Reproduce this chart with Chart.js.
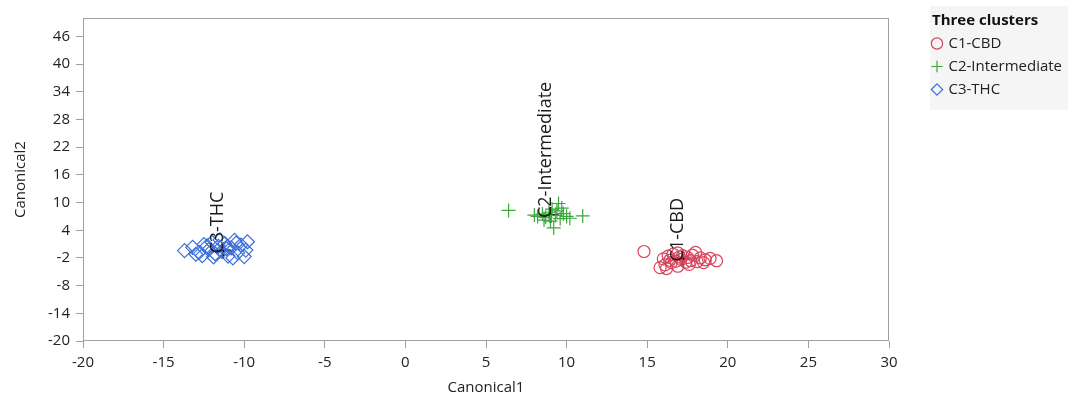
<!DOCTYPE html>
<html>
<head>
<meta charset="utf-8">
<script src="https://cdn.jsdelivr.net/npm/chart.js@4"></script>
<style>
  html, body { margin: 0; padding: 0; background: #fff; overflow: hidden; }
  #wrap { width: 1068px; height: 397px; overflow: hidden; }
  #box { width: 1068px; height: 397px; }
</style>
</head>
<body>
<div id="wrap"><div id="box"><canvas id="myChart"></canvas></div></div>
<script>
// valori (Canonical1, Canonical2)
var cbd = [[14.8,-0.6],[16.0,-2.2],[16.3,-1.6],[16.6,-1.2],[16.9,-0.9],[17.2,-1.5],[17.5,-1.9],[17.8,-1.4],[18.0,-0.8],[18.3,-2.0],
  [18.6,-2.4],[18.9,-2.1],[19.3,-2.6],[16.1,-3.5],[16.5,-3.0],[16.8,-2.7],[17.1,-2.3],[17.4,-2.9],[17.7,-2.6],[18.1,-2.8],
  [15.8,-4.1],[16.2,-4.3],[16.9,-3.8],[17.6,-3.4],[18.5,-3.0],[17.0,-1.8],[16.4,-2.5]];
var intermediate = [[6.4,8.3],[8.2,7.0],[8.5,7.5],[8.7,6.8],[8.9,7.9],[9.1,8.6],[9.3,7.2],[9.5,9.8],[9.6,6.5],[9.8,7.6],
  [10.0,7.0],[10.2,6.6],[11.0,7.1],[9.2,4.5],[8.6,6.2],[9.0,6.0],[9.4,8.2],[8.0,7.3],[9.7,8.8]];
var thc = [[-13.7,-0.4],[-13.2,0.3],[-12.8,-0.8],[-12.5,0.9],[-12.2,-0.2],[-12.0,1.4],[-11.8,-1.1],[-11.6,0.5],[-11.4,-0.6],
  [-11.2,1.1],[-11.0,-1.6],[-10.8,0.2],[-10.6,1.8],[-10.4,-0.9],[-10.2,0.8],[-10.0,-1.7],[-9.8,1.5],[-9.9,-0.3],[-12.6,-1.5],
  [-11.5,1.9],[-10.7,-2.0],[-12.3,0.6],[-11.1,0.0],[-10.5,1.2],[-13.0,-1.2],[-11.9,-1.8]];
var centroidi = [[17.2,-2.1],[9.0,7.3],[-11.3,-0.4]];
var nomiCentroidi = ['C1-CBD', 'C2-Intermediate', 'C3-THC'];
var yTicks = [-20, -14, -8, -2, 4, 10, 16, 22, 28, 34, 40, 46];

function punti(arr) {
  return arr.map(function (p) { return { x: p[0], y: p[1] }; });
}

var FONT = "'Open Sans', sans-serif";

// cornice, sfondo legenda ed etichette dei centroidi
var extra = {
  id: 'extra',
  afterInit: function (chart) {
    var lg = chart.legend;
    var fit = lg.fit;
    lg.fit = function () { fit.call(this); this.width = 179; };
    ['drawTitle', '_drawTitle'].forEach(function (nome) {
      var orig = lg[nome];
      if (typeof orig !== 'function') return;
      lg[nome] = function () {
        this.ctx.save();
        this.ctx.translate(7, 0);
        orig.apply(this, arguments);
        this.ctx.restore();
      };
    });
  },
  afterLayout: function (chart) {
    var lg = chart.legend;
    lg.left += 36; lg.right += 36;
    lg.top -= 5; lg.bottom -= 5;
  },
  beforeDraw: function (chart) {
    var c = chart.ctx;
    c.save();
    c.fillStyle = '#f5f5f5';
    c.fillRect(930, 6, 200, 104);
    c.restore();
  },
  afterDatasetsDraw: function (chart) {
    var c = chart.ctx, a = chart.chartArea;
    c.save();
    c.strokeStyle = '#a0a0a0';
    c.lineWidth = 1;
    c.strokeRect(a.left + 0.5, a.top + 0.5, a.right - a.left - 1, a.bottom - a.top - 1);
    var xs = chart.scales.x, ys = chart.scales.y;
    c.fillStyle = '#1a1a1a';
    c.font = '18px ' + FONT;
    c.textBaseline = 'middle';
    c.textAlign = 'left';
    for (var i = 0; i < centroidi.length; i++) {
      var px = xs.getPixelForValue(centroidi[i][0]);
      var py = ys.getPixelForValue(centroidi[i][1]);
      c.save();
      c.translate(px - 5, py + 3);
      c.rotate(-Math.PI / 2);
      c.fillText(nomiCentroidi[i], 0, 0);
      c.restore();
    }
    c.restore();
  }
};

const ctx = document.getElementById('myChart');
new Chart(ctx, {
  type: 'scatter',
  data: {
    datasets: [
      {
        label: 'C1-CBD',
        data: punti(cbd),
        pointStyle: 'circle',
        radius: 6,
        borderWidth: 1.2,
        borderColor: '#d6455c',
        backgroundColor: 'rgba(0,0,0,0)'
      },
      {
        label: 'C2-Intermediate',
        data: punti(intermediate),
        pointStyle: 'cross',
        radius: 7,
        borderWidth: 1.2,
        borderColor: '#3aa83a',
        backgroundColor: 'rgba(0,0,0,0)'
      },
      {
        label: 'C3-THC',
        data: punti(thc),
        pointStyle: 'rectRot',
        radius: 7,
        borderWidth: 1.2,
        borderColor: '#3d6fdc',
        backgroundColor: 'rgba(0,0,0,0)'
      },
      {
        label: 'centroidi',
        data: punti(centroidi),
        pointStyle: 'cross',
        radius: 8,
        borderWidth: 2,
        borderColor: '#000',
        backgroundColor: '#000'
      }
    ]
  },
  options: {
    responsive: true,
    maintainAspectRatio: false,
    animation: false,
    layout: { padding: { top: 18, left: 0, right: 0, bottom: 0 } },
    plugins: {
      tooltip: { enabled: false },
      legend: {
        position: 'right',
        align: 'start',
        title: {
          display: true,
          position: 'start',
          text: 'Three clusters',
          color: '#111',
          font: { family: FONT, size: 15, weight: 'bold' },
          padding: { top: 0, bottom: -3 }
        },
        labels: {
          usePointStyle: true,
          boxWidth: 8,
          boxHeight: 8,
          padding: 8,
          color: '#222',
          font: { family: FONT, size: 15 },
          filter: function (item) { return item.datasetIndex < 3; }
        }
      }
    },
    scales: {
      x: {
        type: 'linear',
        min: -20,
        max: 30,
        border: { display: false },
        grid: { drawOnChartArea: false, tickLength: 7, color: '#a0a0a0' },
        ticks: { stepSize: 5, color: '#222', font: { family: FONT, size: 15 }, padding: 6 },
        title: { display: true, text: 'Canonical1', color: '#222', font: { family: FONT, size: 15 }, padding: { top: 0, bottom: 0 } },
        afterFit: function (s) { s.height = 56; }
      },
      y: {
        type: 'linear',
        min: -20,
        max: 50,
        border: { display: false },
        grid: { drawOnChartArea: false, tickLength: 7, color: '#a0a0a0' },
        ticks: { color: '#222', font: { family: FONT, size: 15 }, padding: 6 },
        afterBuildTicks: function (s) { s.ticks = yTicks.map(function (v) { return { value: v }; }); },
        title: { display: true, text: 'Canonical2', color: '#222', font: { family: FONT, size: 15 }, padding: { top: 12, bottom: 4 } },
        afterFit: function (s) { s.width = 83; }
      }
    }
  },
  plugins: [extra]
});
</script>
</body>
</html>
